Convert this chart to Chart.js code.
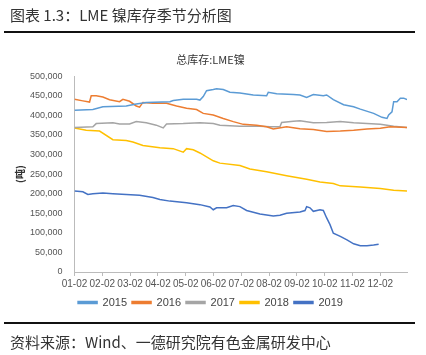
<!DOCTYPE html>
<html><head><meta charset="utf-8">
<script src="https://cdn.jsdelivr.net/npm/chart.js@4/dist/chart.umd.min.js"></script>
<style>
html,body{margin:0;padding:0;background:#fff;}
#wrap{position:relative;width:426px;height:355px;overflow:hidden;}
#c{position:absolute;left:0;top:0;}
.hdr{position:absolute;left:10px;top:4px;font-family:"Noto Sans CJK SC";font-size:15px;color:#333;white-space:nowrap;}
.rule{position:absolute;left:4px;width:411px;height:2px;background:#111;}
.src{position:absolute;left:10px;top:331px;font-family:"Noto Sans CJK SC";font-size:15px;color:#333;white-space:nowrap;}
</style></head>
<body><div id="wrap">
<canvas id="c" width="426" height="355"></canvas>
<div class="hdr">图表 1.3：LME 镍库存季节分析图</div>
<div class="rule" style="top:31px"></div>
<div class="rule" style="top:322px"></div>
<div class="src">资料来源：Wind、一德研究院有色金属研发中心</div>
</div>
<script>
const monthLabels = ['01-02','02-02','03-02','04-02','05-02','06-02','07-02','08-02','09-02','10-02','11-02','12-02'];
const seriesNames = ['2015','2016','2017','2018','2019'];
// x = month position (0 = 01-02), y = tonnes
const x2015 = [0,0.66,1.02,1.86,2.22,2.58,3.43,3.55,3.91,4.39,4.51,4.63,4.75,4.99,5.11,5.35,5.59,5.95,6.43,6.91,6.97,7.27,7.87,8.11,8.35,8.59,8.95,9.07,9.31,9.68,10.04,10.28,10.76,11.06,11.24,11.30,11.42,11.48,11.60,11.72,11.84,11.96];
const y2015 = [413000,415000,422000,424000,429000,433000,435000,438000,441000,441000,439000,448000,463000,466000,468000,466000,459000,457000,452000,450000,459000,455000,453000,452000,446000,453000,450000,452000,440000,427000,422000,416000,405000,395000,392000,401000,409000,435000,435000,444000,444000,440000];
const x2016 = [0,0.30,0.54,0.60,0.78,1.02,1.26,1.62,1.74,1.98,2.22,2.34,2.46,2.82,3.31,3.67,4.03,4.39,4.63,4.99,5.35,5.71,6.07,6.55,6.91,7.15,7.63,8.11,8.59,9.07,9.56,10.04,10.52,11.0,11.36,11.96];
const y2016 = [441000,437000,434000,450000,450000,447000,440000,435000,441000,436000,424000,421000,433000,431000,431000,424000,418000,415000,405000,401000,392000,384000,377000,375000,371000,365000,371000,366000,364000,359000,360000,362000,365000,367000,371000,369000];
const x2017 = [0,0.66,0.78,1.38,1.62,1.98,2.22,2.58,2.94,3.19,3.31,3.91,4.51,4.99,5.23,5.95,6.67,7.03,7.39,7.45,7.87,8.11,8.59,9.07,9.56,10.04,10.52,11.0,11.48,11.96];
const y2017 = [369000,371000,379000,381000,378000,378000,384000,381000,375000,368000,378000,379000,381000,379000,375000,372000,372000,371000,371000,382000,385000,386000,381000,382000,384000,381000,379000,377000,372000,369000];
const x2018 = [0,0.42,0.90,1.38,1.86,2.10,2.46,3.07,3.55,3.91,4.03,4.27,4.51,4.99,5.23,5.95,6.31,6.91,7.63,8.35,8.83,9.31,9.56,10.28,11.0,11.48,11.96];
const y2018 = [368000,362000,360000,338000,336000,332000,323000,317000,315000,306000,315000,312000,304000,284000,278000,272000,263000,256000,246000,237000,230000,226000,220000,217000,213000,209000,207000];
const x2019 = [0,0.30,0.48,0.66,1.02,1.38,1.86,2.34,2.82,3.07,3.43,4.03,4.51,4.87,4.99,5.11,5.47,5.71,5.95,6.19,6.67,7.15,7.39,7.63,8.11,8.29,8.35,8.47,8.59,8.83,8.95,9.07,9.19,9.31,9.56,9.80,10.04,10.28,10.52,10.76,10.94];
const y2019 = [207000,205000,198000,200000,202000,200000,198000,196000,190000,185000,181000,177000,172000,166000,159000,164000,164000,170000,167000,157000,148000,143000,145000,150000,153000,157000,167000,164000,155000,159000,157000,138000,121000,99000,91000,82000,72000,67000,67000,69000,71000];

const xs = [x2015,x2016,x2017,x2018,x2019];
const ys = [y2015,y2016,y2017,y2018,y2019];
const colors = ['#5B9BD5','#ED7D31','#A5A5A5','#FFC000','#4472C4'];

const datasets = seriesNames.map((n,i)=>({
  label:n,
  data: xs[i].map((x,j)=>({x:x,y:ys[i][j]})),
  borderColor:colors[i], backgroundColor:colors[i],
  borderWidth:1.5, pointRadius:0, tension:0, fill:false
}));

new Chart(document.getElementById('c'),{
  type:'line',
  data:{datasets},
  options:{
    responsive:false, animation:false, devicePixelRatio:1,
    layout:{padding:{top:53,left:14,right:19,bottom:37}},
    plugins:{
      title:{display:true,text:'总库存:LME镍',color:'#333',font:{family:'"Noto Sans CJK SC"',size:11,weight:'normal'},padding:{top:0,bottom:10}},
      legend:{position:'bottom',labels:{boxWidth:19,boxHeight:2,color:'#444',font:{family:'"Liberation Sans"',size:11},padding:5},},
      tooltip:{enabled:false}
    },
    scales:{
      x:{type:'linear',min:0,max:11.96,
        afterBuildTicks:(s)=>{s.ticks=monthLabels.map((l,i)=>({value:i}));},
        grid:{drawOnChartArea:false,drawTicks:true,tickLength:4,color:'#bbb'},
        border:{color:'#bbb'},
        ticks:{autoSkip:false,maxRotation:0,color:'#555',font:{family:'"Liberation Sans"',size:10},padding:2,
          callback:(v)=>monthLabels[Math.round(v)]}
      },
      y:{min:0,max:500000,
        grid:{display:false},
        border:{color:'#bbb'},
        title:{display:true,text:'(吨)',color:'#333',font:{family:'"Noto Sans CJK SC"',size:10,weight:'bold'},padding:{top:0,bottom:0}},
        ticks:{stepSize:50000,color:'#555',font:{family:'"Liberation Sans"',size:9},padding:4,
          callback:(v)=>v.toLocaleString('en-US')}
      }
    }
  }
});
</script>
</body></html>
